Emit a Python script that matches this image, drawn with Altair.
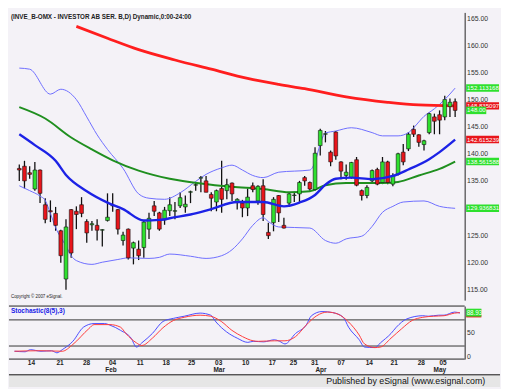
import altair as alt
import pandas as pd

FONT = "Liberation Sans"

# ---------------- daily candles (bar index 0..84) ----------------
opens = [137.3, 137.7, 136.5, 133.5, 137.0, 130.6, 129.5, 129.0, 125.8, 116.9,
         129.7, 129.4, 130.6, 127.5, 126.9, 126.8, 125.9, 127.7, 130.4, 129.7,
         124.0, 126.1, 122.6, 122.4, 122.7, 126.1, 130.4, 129.1, 127.8, 129.5,
         129.4, 130.4, 130.2, 132.9, 134.2, 135.5, 135.0, 132.5, 131.1, 133.6,
         133.2, 134.6, 131.0, 130.9, 130.0, 134.1, 131.3, 134.1, 125.5, 127.3,
         132.3, 126.8, 130.9, 132.3, 132.6, 135.6, 134.7, 133.4, 141.5, 143.6,
         140.3, 144.0, 138.5, 136.0, 135.6, 138.9, 133.2, 132.3, 135.0, 137.1,
         134.7, 138.5, 134.4, 136.2, 140.3, 140.9, 144.5, 143.5, 141.7, 143.9,
         146.8, 147.2, 146.8, 148.7, 149.6]
highs = [138.0, 138.7, 137.7, 138.5, 137.1, 131.8, 131.4, 130.2, 126.0, 127.9,
         129.8, 130.3, 132.0, 127.9, 127.6, 127.9, 126.1, 132.7, 132.7, 129.8,
         125.6, 126.2, 123.8, 124.0, 127.6, 129.1, 131.3, 129.3, 130.2, 132.0,
         131.1, 132.9, 132.3, 133.2, 134.7, 135.9, 135.9, 132.9, 133.4, 138.7,
         135.4, 134.7, 131.8, 131.5, 133.6, 134.7, 134.2, 135.3, 127.3, 132.0,
         132.4, 128.2, 132.8, 133.0, 135.0, 135.9, 134.9, 141.2, 144.6, 144.2,
         140.6, 144.2, 138.6, 138.0, 138.5, 139.4, 133.4, 134.2, 137.1, 137.4,
         139.4, 138.7, 136.4, 140.2, 141.8, 144.0, 145.2, 143.6, 142.6, 147.6,
         147.4, 148.0, 150.7, 150.2, 150.2]
lows = [135.0, 133.6, 135.4, 133.2, 130.9, 127.2, 127.4, 125.8, 119.9, 114.9,
        120.8, 126.1, 128.3, 123.6, 125.8, 124.0, 122.9, 127.5, 129.3, 125.1,
        123.1, 120.5, 119.6, 120.4, 120.8, 124.3, 128.5, 125.8, 126.9, 128.5,
        127.9, 130.0, 129.1, 130.9, 133.2, 132.9, 132.9, 129.4, 129.4, 129.1,
        131.6, 131.3, 129.7, 128.3, 128.5, 132.9, 130.6, 127.6, 124.3, 125.7,
        127.4, 126.2, 130.2, 131.1, 131.1, 134.1, 133.2, 133.2, 139.7, 142.1,
        137.7, 138.9, 135.3, 135.2, 135.4, 134.0, 131.4, 131.8, 134.5, 134.2,
        134.4, 134.4, 134.0, 136.0, 137.9, 140.5, 143.1, 141.3, 140.6, 143.6,
        143.6, 143.6, 146.2, 146.8, 146.8]
closes = [137.0, 135.0, 136.2, 137.0, 132.7, 127.9, 129.3, 126.8, 121.2, 126.5,
          121.7, 128.8, 129.0, 125.4, 127.1, 125.9, 126.0, 128.3, 130.5, 126.1,
          125.0, 120.8, 123.6, 121.2, 127.4, 128.1, 129.4, 126.1, 129.6, 130.6,
          129.5, 131.9, 130.7, 133.0, 134.3, 135.6, 132.9, 131.8, 133.2, 131.6,
          134.3, 132.6, 131.6, 130.0, 132.0, 133.4, 134.0, 128.8, 124.9, 131.6,
          129.1, 126.3, 132.6, 132.4, 134.7, 135.0, 133.5, 140.1, 144.3, 143.7,
          138.5, 139.6, 136.8, 136.6, 138.4, 134.2, 132.3, 133.8, 136.9, 134.4,
          138.5, 134.7, 136.0, 140.0, 138.5, 143.6, 143.6, 142.1, 142.4, 147.4,
          146.0, 146.2, 150.0, 149.5, 148.0]

# ---------------- indicator lines (read at sample bars) ----------------
ma200_idx = [11, 17, 23, 30, 37, 44, 50, 55, 63, 71, 77, 84]
ma200_val = [163.5, 161.3, 159.2, 157.3, 155.6, 153.9, 152.8, 152.0, 150.5, 149.5, 149.0, 148.84]

ma50_idx = [0, 5, 10, 14, 18, 23, 29, 35, 41, 47, 52, 56, 59, 63, 70, 73, 77, 81, 84]
ma50_val = [148.6, 146.5, 143.0, 140.8, 138.8, 136.9, 135.4, 134.5, 133.9, 133.5,
            132.9, 133.1, 134.2, 134.6, 134.6, 134.8, 136.0, 137.2, 138.56]

ma20_idx = [0, 3, 7, 9, 13, 17, 20, 24, 27, 30, 33, 37, 42, 47, 51, 54, 57, 59, 61,
            64, 68, 72, 75, 79, 81, 84]
ma20_val = [143.6, 141.6, 138.7, 136.1, 133.1, 131.0, 129.8, 127.7, 127.8, 128.3,
            128.8, 129.8, 131.1, 131.1, 130.3, 131.0, 132.4, 134.3, 135.4, 135.6,
            135.3, 135.9, 137.1, 139.0, 140.3, 142.6]

upper_idx = [0, 2, 6, 8, 11, 13, 15, 17, 20, 23, 25, 28, 31, 34, 36, 39, 41, 43, 45,
             47, 50, 56, 57, 58, 59, 61, 64, 68, 70, 73, 75, 76, 78, 80, 82, 84]
upper_val = [155.8, 155.6, 151.0, 151.9, 150.0, 146.8, 143.5, 140.8, 137.3, 132.6,
             131.8, 131.6, 132.8, 134.9, 136.2, 137.4, 137.9, 137.0, 136.0, 135.6,
             136.6, 137.0, 138.5, 141.8, 143.8, 144.2, 144.8, 143.9, 143.3, 143.3,
             143.9, 144.8, 146.9, 148.3, 150.0, 152.11]

lower_idx = [0, 2, 4, 5, 6, 7, 9, 10, 11, 14, 16, 19, 21, 25, 27, 29, 33, 36, 39, 41,
             43, 45, 47, 48, 50, 56, 59, 61, 63, 66, 68, 70, 72, 74, 78, 81, 84]
lower_val = [134.1, 133.2, 132.2, 131.4, 129.0, 126.4, 123.0, 121.2, 120.3, 119.6,
             120.0, 120.5, 120.8, 120.7, 120.9, 121.5, 121.1, 120.7, 121.2, 122.3,
             124.3, 126.8, 128.2, 127.5, 126.5, 126.3, 124.0, 123.5, 124.3, 124.8,
             126.6, 129.2, 130.3, 131.1, 131.3, 130.3, 129.94]

# value tags on the price scale
tag_labels = ["152.113168", "148.835097", "129.936831", "142.615239", "138.561588", "148.00"]
tag_values = [152.113168, 148.835097, 129.936831, 142.615239, 138.561588, 148.00]
tag_series = ["band", "ma200", "band", "ma20", "ma50", "last"]

price_ticks = [115, 120, 125, 130, 135, 140, 145, 150, 155, 160, 165]

# ---------------- stochastic ----------------
k_idx = [0, 2, 3, 5, 7, 8, 9, 11, 13, 15, 17, 18, 20, 22, 23, 24, 26, 28, 30, 32,
         35, 37, 38, 40, 42, 44, 45, 47, 49, 50, 51, 53, 55, 56, 58, 60, 62, 63, 65,
         66, 68, 69, 71, 72, 74, 77, 78, 80, 81, 83, 84]
k_val = [15, 14, 18, 15, 16, 12, 18, 34, 61, 68, 68, 65, 55, 40, 23, 31, 49, 72, 78,
         82, 88, 84, 71, 52, 40, 32, 34, 33, 37, 34, 29, 49, 65, 83, 91, 89, 80, 61,
         37, 23, 22, 31, 49, 61, 77, 83, 82, 84, 84, 90, 88]
d_idx = [0, 5, 9, 11, 14, 15, 18, 20, 21, 23, 24, 26, 28, 30, 32, 35, 37, 39, 41, 43,
         45, 46, 49, 51, 53, 55, 57, 59, 61, 63, 65, 66, 68, 69, 71, 73, 75, 77, 79,
         81, 83, 84]
d_val = [15, 16, 15, 28, 58, 66, 66, 61, 49, 31, 26, 40, 60, 74, 80, 84, 82, 72, 55,
         43, 35, 34, 35, 35, 43, 65, 83, 90, 86, 71, 46, 29, 22, 23, 40, 58, 74, 80,
         82, 83, 88, 89]
stoch_levels = [25, 75]
stoch_ticks = [0, 50]
stoch_tag_labels = ["", "88.93"]
stoch_tag_values = [87.3, 88.93]
stoch_tag_series = ["k", "d"]

# ---------------- date labels ----------------
day_pos = [3.2, 8.6, 13.6, 18.5, 23.7, 28.6, 33.4, 38.5, 43.6, 48.6, 52.6, 56.6,
           61.6, 66.9, 71.6, 76.7, 80.8]
day_labels = ["14", "21", "28", "04", "11", "18", "25", "03", "10", "17", "25", "31",
              "07", "14", "21", "28", "05"]
month_pos = [18.2, 38.6, 57.8, 80.2]
month_labels = ["Feb", "Mar", "Apr", "May"]

TITLE = "(INVE_B-OMX - INVESTOR AB SER. B,D) Dynamic,0:00-24:00"
COPY = "Copyright \u00a9 2007 eSignal."
STOCH_NAME = "Stochastic(8(5),3)"
FOOTER = "Published by eSignal (www.esignal.com)"

# ---------------- styling ----------------
W, H1, H2 = 464, 293, 54
BG = "#f4f2f7"
GREEN = "#2ee02e"
RED = "#e8151b"

bars = pd.DataFrame({"i": list(range(len(opens))), "o": opens, "h": highs,
                     "l": lows, "c": closes})


def series(idx, val):
    return pd.DataFrame({"i": idx, "v": val})


xs = alt.Scale(domain=[-1.04, 84.89], nice=False, zero=False)
ys = alt.Scale(domain=[113.0, 166.07], nice=False, zero=False)
X = alt.X("i:Q", scale=xs, axis=None)

price_axis = alt.Axis(orient="right", values=price_ticks, format=".2f", labelFont=FONT,
                      labelFontSize=7, labelColor="#333", ticks=False, grid=False,
                      domain=True, domainColor="#222", domainWidth=1, labelPadding=2,
                      labelOverlap=False, labelBound=False, title=None)


def Yp(field):
    return alt.Y(field, scale=ys, axis=price_axis)


wicks = alt.Chart(bars).mark_rule(color="#111", strokeWidth=1.3).encode(
    x=X, y=Yp("l:Q"), y2="h:Q")

bodies = alt.Chart(bars).transform_calculate(
    dir="datum.c >= datum.o ? 'up' : 'down'"
).mark_bar(size=3.8, stroke="#111", strokeWidth=0.6).encode(
    x=X, y=Yp("o:Q"), y2="c:Q",
    color=alt.Color("dir:N", scale=alt.Scale(domain=["up", "down"], range=[GREEN, RED]),
                    legend=None))


def line(df, color, width):
    return alt.Chart(df).mark_line(interpolate="monotone", color=color,
                                   strokeWidth=width).encode(
        x=X, y=Yp("v:Q"))


upper_l = line(series(upper_idx, upper_val), "#6d6dff", 1)
lower_l = line(series(lower_idx, lower_val), "#6d6dff", 1)
ma20_l = line(series(ma20_idx, ma20_val), "#1c22e6", 2.4)
ma50_l = line(series(ma50_idx, ma50_val), "#1f8f1f", 2)
ma200_l = line(series(ma200_idx, ma200_val), "#ff1e1e", 2.8)

tags = pd.DataFrame({"label": tag_labels, "v": tag_values, "s": tag_series})
tag_color = alt.Color("s:N", scale=alt.Scale(domain=["band", "ma20", "ma50", "ma200", "last"],
                                             range=["#2525ee", "#2525ee", "#1f8f1f", "#ee1c1c", "#ee1c1c"]),
                      legend=None)
long_box = alt.Chart(tags).transform_filter("length(datum.label) > 7").mark_rect(
    yOffset=-3.8, y2Offset=3.8).encode(
    x=alt.value(465.5), x2=alt.value(499), y=Yp("v:Q"), y2="v:Q", color=tag_color)
long_txt = alt.Chart(tags).transform_filter("length(datum.label) > 7").mark_text(
    align="left", baseline="middle", font=FONT, fontSize=6.2, color="white").encode(
    x=alt.value(466.5), y=Yp("v:Q"), text="label:N")
short_box = alt.Chart(tags).transform_filter("length(datum.label) <= 7").mark_rect(
    yOffset=-3.8, y2Offset=3.8).encode(
    x=alt.value(465.5), x2=alt.value(486), y=Yp("v:Q"), y2="v:Q", color=tag_color)
short_txt = alt.Chart(tags).transform_filter("length(datum.label) <= 7").mark_text(
    align="left", baseline="middle", font=FONT, fontSize=6.2, color="white").encode(
    x=alt.value(466.5), y=Yp("v:Q"), text="label:N")

title_t = alt.Chart(pd.DataFrame({"t": [TITLE]})).mark_text(
    align="left", baseline="middle", font=FONT, fontSize=6.4, fontWeight="bold",
    color="#222").encode(x=alt.value(2), y=alt.value(5), text="t:N")
copy_t = alt.Chart(pd.DataFrame({"t": [COPY]})).mark_text(
    align="left", baseline="middle", font=FONT, fontSize=4.5, color="#222").encode(
    x=alt.value(2), y=alt.value(290), text="t:N")

main = alt.layer(wicks, upper_l, lower_l, ma50_l, ma200_l, bodies, ma20_l,
                 long_box, long_txt, short_box, short_txt, title_t, copy_t).properties(
    width=W, height=H1)

# ---------------- stochastic panel ----------------
ss = alt.Scale(domain=[0, 101.5], nice=False, zero=False)
stoch_axis = alt.Axis(orient="right", values=stoch_ticks, format="d", labelFont=FONT,
                      labelFontSize=7, labelColor="#333", ticks=False, grid=False,
                      domain=True, domainColor="#222", domainWidth=1, labelPadding=2,
                      labelFlush=True, labelOverlap=False, title=None)


def Ys(field):
    return alt.Y(field, scale=ss, axis=stoch_axis)


lv = alt.Chart(pd.DataFrame({"v": stoch_levels})).mark_rule(color="#333", strokeWidth=1).encode(
    y=Ys("v:Q"))
border_top = alt.Chart(pd.DataFrame({"t": [STOCH_NAME]})).mark_rule(color="#222", strokeWidth=1).encode(
    x=alt.value(0), x2=alt.value(W), y=alt.value(0))
border_bot = alt.Chart(pd.DataFrame({"t": [STOCH_NAME]})).mark_rule(color="#222", strokeWidth=1).encode(
    x=alt.value(0), x2=alt.value(W), y=alt.value(H2))
kl = alt.Chart(series(k_idx, k_val)).mark_line(interpolate="monotone", color="#4a4aff",
                                               strokeWidth=1).encode(
    x=X, y=Ys("v:Q"))
dl = alt.Chart(series(d_idx, d_val)).mark_line(interpolate="monotone", color="#ff3a3a",
                                               strokeWidth=1).encode(
    x=X, y=Ys("v:Q"))

stags = pd.DataFrame({"label": stoch_tag_labels, "v": stoch_tag_values, "s": stoch_tag_series})
stag_box = alt.Chart(stags).mark_rect(yOffset=-4, y2Offset=4).encode(
    x=alt.value(465.5), x2=alt.value(481), y=Ys("v:Q"), y2="v:Q",
    color=alt.Color("s:N", scale=alt.Scale(domain=["k", "d"], range=["#2525ee", "#ee1c1c"]),
                    legend=None))
stag_txt = alt.Chart(stags).mark_text(align="left", baseline="middle", font=FONT,
                                      fontSize=6.4, color="white").encode(
    x=alt.value(466), y=Ys("v:Q"), text="label:N")

sname = alt.Chart(pd.DataFrame({"t": [STOCH_NAME]})).mark_text(
    align="left", baseline="middle", font=FONT, fontSize=6.6, fontWeight="bold",
    color="#2020e8").encode(x=alt.value(2), y=alt.value(5.5), text="t:N")

days = alt.Chart(pd.DataFrame({"i": day_pos, "t": day_labels})).mark_text(
    baseline="middle", font=FONT, fontSize=6.6, fontWeight="bold", color="#222").encode(
    x=X, y=alt.value(57.7), text="t:N")
months = alt.Chart(pd.DataFrame({"i": month_pos, "t": month_labels})).mark_text(
    baseline="middle", font=FONT, fontSize=6.6, fontWeight="bold", color="#222").encode(
    x=X, y=alt.value(65.2), text="t:N")

footer_bg = alt.Chart(pd.DataFrame({"t": [FOOTER]})).mark_rect(color="#e6e6e6").encode(
    x=alt.value(0), x2=alt.value(500), y=alt.value(70), y2=alt.value(82.5))
footer_line = alt.Chart(pd.DataFrame({"t": [FOOTER]})).mark_rule(color="#111", strokeWidth=1).encode(
    x=alt.value(0), x2=alt.value(500), y=alt.value(70))
footer_t = alt.Chart(pd.DataFrame({"t": [FOOTER]})).mark_text(
    align="right", baseline="middle", font=FONT, fontSize=9, color="#111").encode(
    x=alt.value(485), y=alt.value(76.5), text="t:N")

stoch = alt.layer(lv, border_top, border_bot, kl, dl, stag_box, stag_txt, sname, days,
                  months, footer_bg, footer_line, footer_t).properties(width=W, height=H2)

chart = alt.vconcat(main, stoch, spacing=4).properties(
    padding={"left": 0, "top": 0, "right": 0, "bottom": 0},
    background=BG
).configure_view(stroke="transparent")

chart.save("out.html", embed_options={"renderer": "svg", "actions": False})
